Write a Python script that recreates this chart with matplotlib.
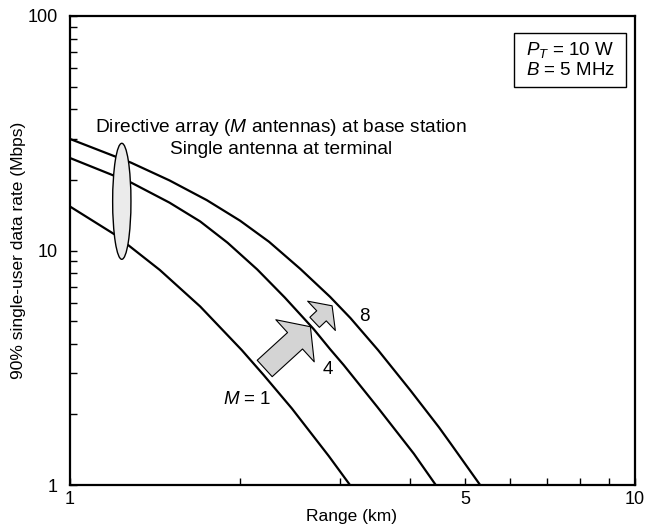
import matplotlib
matplotlib.use("Agg")
import matplotlib.pyplot as plt
from matplotlib.patches import Ellipse, Rectangle, FancyArrowPatch, ArrowStyle
from matplotlib.ticker import FixedLocator, NullFormatter, FixedFormatter

plt.rcParams['font.family'] = ['Liberation Sans', 'DejaVu Sans']
plt.rcParams['mathtext.fontset'] = 'custom'
plt.rcParams['mathtext.rm'] = 'Liberation Sans'
plt.rcParams['mathtext.it'] = 'Liberation Sans:italic'

# ---- data ----
range_m1 = [1.0, 1.2, 1.442, 1.70, 2.014, 2.2, 2.47, 2.87, 3.13]
rate_m1 = [15.4, 11.7, 8.26, 5.77, 3.76, 2.95, 2.12, 1.33, 1.0]

range_m4 = [1.0, 1.282, 1.5, 1.70, 1.9, 2.145, 2.4, 2.70, 2.885, 3.05, 3.5, 4.06, 4.44]
rate_m4 = [24.8, 19.5, 16.0, 13.3, 10.8, 8.3, 6.3, 4.62, 3.8, 3.25, 2.15, 1.36, 1.0]

range_m8 = [1.0, 1.282, 1.5, 1.746, 2.0, 2.25, 2.556, 2.885, 3.136, 3.51, 4.0, 4.5, 4.72, 5.32]
rate_m8 = [29.9, 23.7, 19.9, 16.4, 13.4, 10.9, 8.35, 6.35, 5.15, 3.76, 2.54, 1.76, 1.50, 1.0]

x_ticks = [1, 5, 10]
x_ticklabels = ["1", "5", "10"]
y_ticks = [1, 10, 100]
y_ticklabels = ["1", "10", "100"]

fig = plt.figure(figsize=(6.45, 5.27), dpi=100)
ax = fig.add_axes([70 / 645, 1 - 485 / 527, 565 / 645, 469 / 527])

for xs, ys in [(range_m1, rate_m1), (range_m4, rate_m4), (range_m8, rate_m8)]:
    ax.plot(xs, ys, color='black', lw=1.6, solid_capstyle='butt', solid_joinstyle='round', zorder=3)

ax.set_xscale('log')
ax.set_yscale('log')
ax.set_xlim(1, 10)
ax.set_ylim(1, 100)

ax.xaxis.set_major_locator(FixedLocator(x_ticks))
ax.xaxis.set_major_formatter(FixedFormatter(x_ticklabels))
ax.xaxis.set_minor_locator(FixedLocator([2, 3, 4, 6, 7, 8, 9]))
ax.xaxis.set_minor_formatter(NullFormatter())
ax.yaxis.set_major_locator(FixedLocator(y_ticks))
ax.yaxis.set_major_formatter(FixedFormatter(y_ticklabels))
ax.yaxis.set_minor_locator(FixedLocator([2, 3, 4, 5, 6, 7, 8, 9, 20, 30, 40, 50, 60, 70, 80, 90]))
ax.yaxis.set_minor_formatter(NullFormatter())

ax.tick_params(which='both', direction='in', top=False, right=False, width=1.0, labelsize=13)
ax.tick_params(which='major', length=5)
ax.tick_params(which='minor', length=5)
ax.tick_params(axis='y', which='major', pad=9)
ax.tick_params(axis='x', which='major', pad=4)
for s in ax.spines.values():
    s.set_linewidth(1.6)

fig.text(352 / 645, 1 - 517 / 527, "Range (km)", ha='center', va='center', fontsize=12.5)
fig.text(19 / 645, 1 - 250 / 527, "90% single-user data rate (Mbps)", ha='center', va='center',
         rotation=90, fontsize=12.5)

# ellipse grouping the curves
ell = Ellipse(((121.8 - 70) / 565, (485 - 201.3) / 469), 18.3 / 565, 116 / 469,
              transform=ax.transAxes, facecolor='#ebebeb', edgecolor='black', lw=1.0, zorder=4)
ax.add_patch(ell)

ax.text((281 - 70) / 565, (485 - 127) / 469, "Directive array ($M$ antennas) at base station",
        transform=ax.transAxes, ha='center', va='center', fontsize=13.8)
ax.text((281 - 70) / 565, (485 - 149) / 469, "Single antenna at terminal",
        transform=ax.transAxes, ha='center', va='center', fontsize=13.8)

# parameter box
ax.add_patch(Rectangle((0.786, 0.849), 0.198, 0.114, transform=ax.transAxes,
                       facecolor='white', edgecolor='black', lw=1.0, zorder=5))
ax.text(0.807, 0.9275, "$P_T$ = 10 W", transform=ax.transAxes, ha='left', va='center',
        fontsize=13.5, zorder=6)
ax.text(0.807, 0.883, "$B$ = 5 MHz", transform=ax.transAxes, ha='left', va='center',
        fontsize=13.5, zorder=6)

# curve labels
ax.text((247.5 - 70) / 565, (485 - 400) / 469, "$M$ = 1", transform=ax.transAxes,
        ha='center', va='center', fontsize=13.5)
ax.text((328.3 - 70) / 565, (485 - 370) / 469, "4", transform=ax.transAxes,
        ha='center', va='center', fontsize=13.5)
ax.text((364.3 - 70) / 565, (485 - 316.7) / 469, "8", transform=ax.transAxes,
        ha='center', va='center', fontsize=13.5)

# block arrows
big = FancyArrowPatch((2.211, 3.14), (2.664, 4.73),
                      arrowstyle=ArrowStyle.Simple(head_length=15, head_width=41, tail_width=16),
                      mutation_scale=1, shrinkA=0, shrinkB=0,
                      facecolor='#d4d4d4', edgecolor='black', lw=0.8, zorder=5)
ax.add_patch(big)
small = FancyArrowPatch((2.71, 4.94), (2.91, 5.81),
                        arrowstyle=ArrowStyle.Simple(head_length=10.5, head_width=29, tail_width=10),
                        mutation_scale=1, shrinkA=0, shrinkB=0,
                        facecolor='#d4d4d4', edgecolor='black', lw=0.8, zorder=5)
ax.add_patch(small)

fig.savefig("out.png", dpi=100)
